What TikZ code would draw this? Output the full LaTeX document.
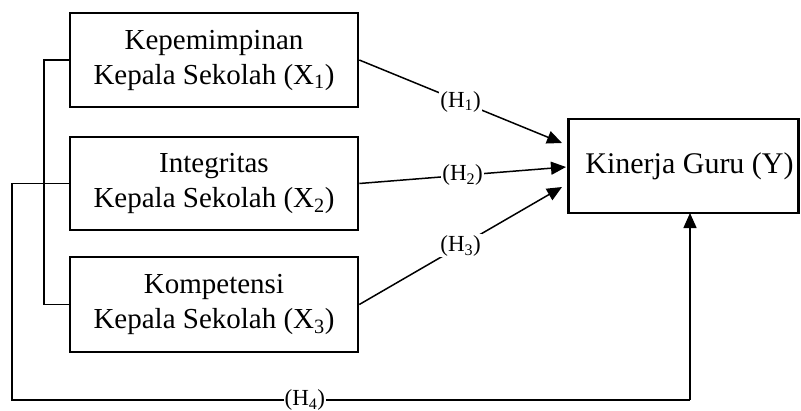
\documentclass[tikz,border=0pt]{standalone}
\usepackage{fontspec}
\setmainfont{Liberation Serif}
\usetikzlibrary{arrows.meta}
\begin{document}
\begin{tikzpicture}[x=1pt,y=-1pt,
  box/.style={draw,line width=2.6pt,rectangle,inner sep=0pt,align=center,font=\fontsize{29}{35}\selectfont},
  conn/.style={line width=1.5pt},
  arr/.style={conn,-{Triangle[length=15pt,width=13pt]}},
  hlab/.style={fill=white,inner sep=1pt,font=\fontsize{23}{27}\selectfont}]
\useasboundingbox (0,0) rectangle (801,410);
\node[box,minimum width=288pt,minimum height=94pt] (x1) at (214,60) {Kepemimpinan\\Kepala Sekolah (X\textsubscript{1})};
\node[box,minimum width=288pt,minimum height=93pt] (x2) at (214,183.5) {Integritas\\Kepala Sekolah (X\textsubscript{2})};
\node[box,minimum width=288pt,minimum height=95pt] (x3) at (214,304.5) {Kompetensi\\Kepala Sekolah (X\textsubscript{3})};
\node[box,minimum width=230pt,minimum height=94pt,font=\fontsize{30}{35}\selectfont] (y) at (683.5,166) {\hspace*{12pt}Kinerja Guru (Y)};
\coordinate (t1) at (562,143);
\coordinate (t2) at (566,167);
\coordinate (t3) at (562,187);
\draw[arr] (x1.east) -- node[hlab,pos=0.5] {(H\textsubscript{1})} (t1);
\draw[arr] (x2.east) -- node[hlab,pos=0.5] {(H\textsubscript{2})} (t2);
\draw[arr] (x3.east) -- node[hlab,pos=0.5] {(H\textsubscript{3})} (t3);
\coordinate (b1) at (44,60);
\coordinate (b2) at (44,304.5);
\draw[conn] (x1.west) -- (b1) -- (b2) -- (x3.west);
\coordinate (c1) at (12,183.5);
\coordinate (c2) at (12,400);
\coordinate (c3) at (690,400);
\coordinate (c4) at (690,213);
\draw[conn] (x2.west) -- (c1) -- (c2) -- node[hlab,pos=0.432] {(H\textsubscript{4})} (c3);
\draw[arr] (c3) -- (c4);
\end{tikzpicture}
\end{document}
